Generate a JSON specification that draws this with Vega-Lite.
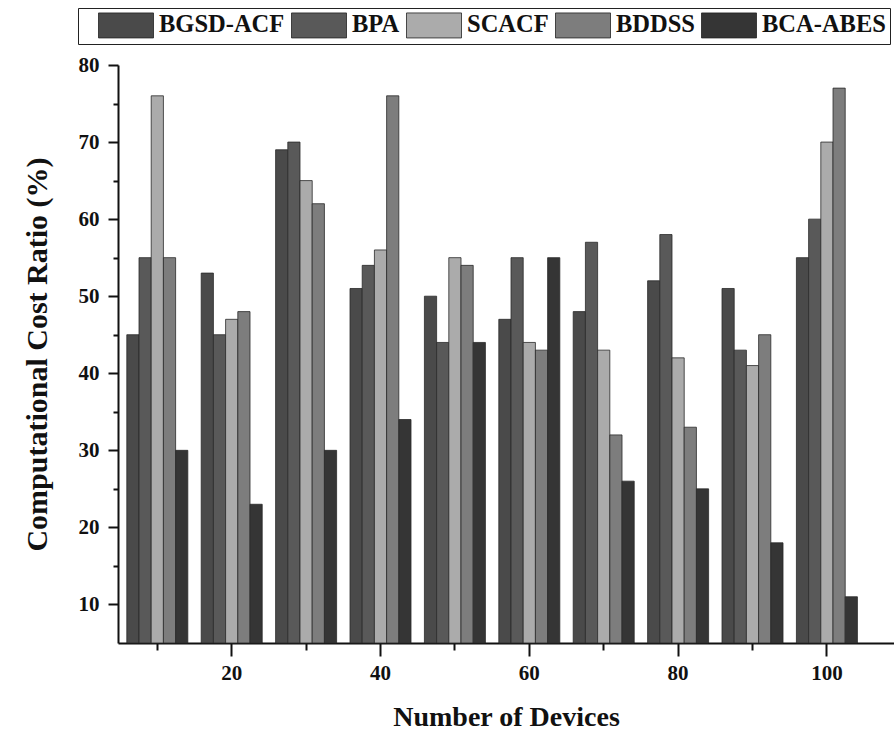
{
  "$schema": "https://vega.github.io/schema/vega-lite/v6.json",
  "width": 776,
  "height": 578,
  "autosize": {"type": "none"},
  "padding": {"left": 118, "top": 65, "right": 0, "bottom": 90},
  "background": "white",
  "config": {"view": {"stroke": null}, "font": "Liberation Serif"},
  "data": {
    "values": [
      {"devices": 10, "method": "BGSD-ACF", "ratio": 45},
      {"devices": 10, "method": "BPA", "ratio": 55},
      {"devices": 10, "method": "SCACF", "ratio": 76},
      {"devices": 10, "method": "BDDSS", "ratio": 55},
      {"devices": 10, "method": "BCA-ABES", "ratio": 30},
      {"devices": 20, "method": "BGSD-ACF", "ratio": 53},
      {"devices": 20, "method": "BPA", "ratio": 45},
      {"devices": 20, "method": "SCACF", "ratio": 47},
      {"devices": 20, "method": "BDDSS", "ratio": 48},
      {"devices": 20, "method": "BCA-ABES", "ratio": 23},
      {"devices": 30, "method": "BGSD-ACF", "ratio": 69},
      {"devices": 30, "method": "BPA", "ratio": 70},
      {"devices": 30, "method": "SCACF", "ratio": 65},
      {"devices": 30, "method": "BDDSS", "ratio": 62},
      {"devices": 30, "method": "BCA-ABES", "ratio": 30},
      {"devices": 40, "method": "BGSD-ACF", "ratio": 51},
      {"devices": 40, "method": "BPA", "ratio": 54},
      {"devices": 40, "method": "SCACF", "ratio": 56},
      {"devices": 40, "method": "BDDSS", "ratio": 76},
      {"devices": 40, "method": "BCA-ABES", "ratio": 34},
      {"devices": 50, "method": "BGSD-ACF", "ratio": 50},
      {"devices": 50, "method": "BPA", "ratio": 44},
      {"devices": 50, "method": "SCACF", "ratio": 55},
      {"devices": 50, "method": "BDDSS", "ratio": 54},
      {"devices": 50, "method": "BCA-ABES", "ratio": 44},
      {"devices": 60, "method": "BGSD-ACF", "ratio": 47},
      {"devices": 60, "method": "BPA", "ratio": 55},
      {"devices": 60, "method": "SCACF", "ratio": 44},
      {"devices": 60, "method": "BDDSS", "ratio": 43},
      {"devices": 60, "method": "BCA-ABES", "ratio": 55},
      {"devices": 70, "method": "BGSD-ACF", "ratio": 48},
      {"devices": 70, "method": "BPA", "ratio": 57},
      {"devices": 70, "method": "SCACF", "ratio": 43},
      {"devices": 70, "method": "BDDSS", "ratio": 32},
      {"devices": 70, "method": "BCA-ABES", "ratio": 26},
      {"devices": 80, "method": "BGSD-ACF", "ratio": 52},
      {"devices": 80, "method": "BPA", "ratio": 58},
      {"devices": 80, "method": "SCACF", "ratio": 42},
      {"devices": 80, "method": "BDDSS", "ratio": 33},
      {"devices": 80, "method": "BCA-ABES", "ratio": 25},
      {"devices": 90, "method": "BGSD-ACF", "ratio": 51},
      {"devices": 90, "method": "BPA", "ratio": 43},
      {"devices": 90, "method": "SCACF", "ratio": 41},
      {"devices": 90, "method": "BDDSS", "ratio": 45},
      {"devices": 90, "method": "BCA-ABES", "ratio": 18},
      {"devices": 100, "method": "BGSD-ACF", "ratio": 55},
      {"devices": 100, "method": "BPA", "ratio": 60},
      {"devices": 100, "method": "SCACF", "ratio": 70},
      {"devices": 100, "method": "BDDSS", "ratio": 77},
      {"devices": 100, "method": "BCA-ABES", "ratio": 11}
    ]
  },
  "mark": {"type": "bar", "stroke": "#2a2a2a", "strokeWidth": 0.8},
  "encoding": {
    "x": {
      "field": "devices",
      "type": "ordinal",
      "scale": {"paddingInner": 0.18, "paddingOuter": 0.305, "align": 0.194},
      "axis": {
        "title": "Number of Devices",
        "labelAngle": 0,
        "labelExpr": "datum.value % 20 == 0 ? datum.label : ''",
        "tickSize": {"condition": {"test": "datum.value % 20 == 0", "value": 13}, "value": 7},
        "tickWidth": 2,
        "tickColor": "#111",
        "domainWidth": 2,
        "domainColor": "#111",
        "labelFont": "Liberation Serif",
        "labelFontSize": 21,
        "labelFontWeight": "bold",
        "labelColor": "#111",
        "labelPadding": 6,
        "titleFont": "Liberation Serif",
        "titleFontSize": 28,
        "titleFontWeight": "bold",
        "titleColor": "#111",
        "titlePadding": 20,
        "grid": false
      }
    },
    "xOffset": {
      "field": "method",
      "type": "nominal",
      "scale": {"domain": ["BGSD-ACF", "BPA", "SCACF", "BDDSS", "BCA-ABES"], "paddingInner": 0, "paddingOuter": 0}
    },
    "y": {
      "field": "ratio",
      "type": "quantitative",
      "scale": {"domain": [5, 80], "nice": false, "zero": false},
      "axis": {
        "title": "Computational Cost Ratio (%)",
        "values": [10, 15, 20, 25, 30, 35, 40, 45, 50, 55, 60, 65, 70, 75, 80],
        "labelExpr": "datum.value % 10 == 0 ? datum.label : ''",
        "tickSize": {"condition": {"test": "datum.value % 10 == 0", "value": 10}, "value": 5},
        "tickWidth": 2,
        "tickColor": "#111",
        "domainWidth": 2,
        "domainColor": "#111",
        "labelFont": "Liberation Serif",
        "labelFontSize": 21,
        "labelFontWeight": "bold",
        "labelColor": "#111",
        "labelPadding": 9,
        "titleFont": "Liberation Serif",
        "titleFontSize": 30,
        "titleFontWeight": "bold",
        "titleColor": "#111",
        "titlePadding": 26,
        "grid": false
      }
    },
    "y2": {"datum": 5},
    "color": {
      "field": "method",
      "type": "nominal",
      "scale": {
        "domain": ["BGSD-ACF", "BPA", "SCACF", "BDDSS", "BCA-ABES"],
        "range": ["#4a4a4a", "#595959", "#ababab", "#7d7d7d", "#353535"]
      },
      "legend": {
        "orient": "none",
        "legendX": -40,
        "legendY": -57,
        "direction": "horizontal",
        "columns": 5,
        "title": "\u2003",
        "titleOrient": "left",
        "titleFontSize": 16,
        "titlePadding": 16,
        "symbolType": "M-2.2,-1L2.2,-1L2.2,1L-2.2,1Z",
        "symbolSize": 625,
        "symbolOffset": 15,
        "symbolOpacity": 1,
        "symbolStrokeColor": "#222",
        "symbolStrokeWidth": 0.8,
        "labelFont": "Liberation Serif",
        "labelFontSize": 24.5,
        "labelFontWeight": "bold",
        "labelColor": "#111",
        "labelOffset": 20,
        "labelLimit": 300,
        "columnPadding": 4,
        "strokeColor": "#222",
        "padding": 4,
        "fillColor": "white"
      }
    }
  }
}
